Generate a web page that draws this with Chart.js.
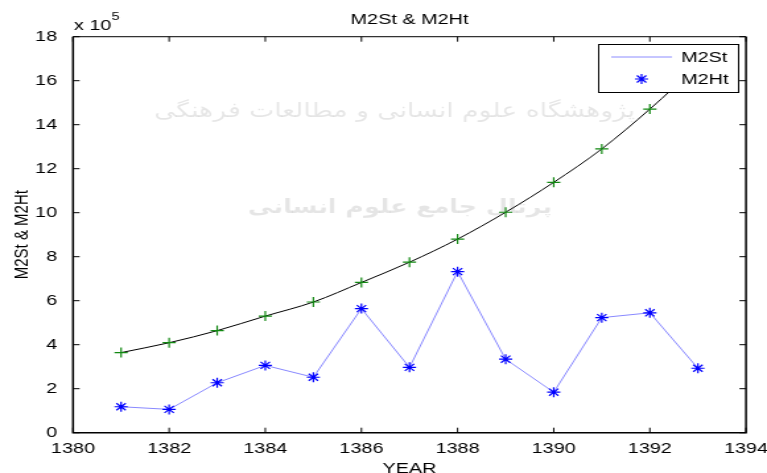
<!DOCTYPE html>
<html>
<head>
<meta charset="utf-8">
<script src="https://cdn.jsdelivr.net/npm/chart.js@4.4.1/dist/chart.umd.min.js"></script>
<style>
  html, body { margin: 0; padding: 0; background: #fff; overflow: hidden; }
  /* the figure is drawn narrower and stretched sideways, like a resized export */
  #wrap { width: 581px; height: 473px; transform: scaleX(1.3201); transform-origin: 0 0; }
  canvas { display: block; }
</style>
</head>
<body>
<div id="wrap"><canvas id="c" width="581" height="473"></canvas></div>
<script>
// Years (Solar Hijri) and the two money series, in units of 10^5
const years = [1381, 1382, 1383, 1384, 1385, 1386, 1387, 1388, 1389, 1390, 1391, 1392, 1393];
const m2st  = [3.64, 4.09, 4.64, 5.30, 5.94, 6.83, 7.75, 8.80, 10.02, 11.38, 12.90, 14.71, 16.70];
const m2ht  = [1.18, 1.06, 2.27, 3.06, 2.52, 5.64, 2.97, 7.32, 3.34, 1.84, 5.23, 5.45, 2.93];

// Axis tick labels
const xTicks = [1380, 1382, 1384, 1386, 1388, 1390, 1392, 1394];
const yTicks = [0, 2, 4, 6, 8, 10, 12, 14, 16, 18];

// Texts
const titleText = 'M2St & M2Ht';
const xLabel = 'YEAR';
const yLabel = 'M2St & M2Ht';
const watermark = ['پژوهشگاه علوم انسانی و مطالعات فرهنگی', 'پرتال جامع علوم انسانی'];

const FONT = '"Liberation Sans", Arial, Helvetica, sans-serif';

// draw a line of text scaled so that it spans the given width
function fitText(ctx, text, cx, cy, width, weight) {
  ctx.font = weight + ' 20px "DejaVu Sans"';
  const size = 20 * width / ctx.measureText(text).width;
  ctx.font = weight + ' ' + size.toFixed(1) + 'px "DejaVu Sans"';
  ctx.fillText(text, cx, cy);
}

const figure = {
  id: 'figure',
  beforeDatasetsDraw(chart) {
    const ctx = chart.ctx;
    ctx.save();
    ctx.fillStyle = 'rgba(0,0,0,0.1)';
    ctx.textAlign = 'center';
    ctx.textBaseline = 'middle';
    ctx.direction = 'rtl';
    fitText(ctx, watermark[0], 299, 112, 364, 'normal');
    fitText(ctx, watermark[1], 303, 208, 230, 'bold');
    ctx.restore();
  },
  afterDatasetsDraw(chart) {
    // legend box in the upper right corner of the axes
    const ctx = chart.ctx;
    const ds = chart.data.datasets;
    const bx = 453, by = 44, bw = 106, bh = 48;
    ctx.save();
    ctx.fillStyle = '#fff';
    ctx.fillRect(bx, by, bw, bh);
    ctx.strokeStyle = '#000';
    ctx.lineWidth = 1;
    ctx.strokeRect(bx + 0.5, by + 0.5, bw, bh);
    // first entry: thin line sample
    ctx.strokeStyle = '#8c8cff';
    ctx.beginPath();
    ctx.moveTo(463, 57);
    ctx.lineTo(509, 57);
    ctx.stroke();
    // second entry: asterisk marker sample
    ctx.strokeStyle = '#0000ff';
    ctx.lineWidth = 1.2;
    Chart.helpers.drawPoint(ctx, { pointStyle: 'star', radius: 5, rotation: 0, borderWidth: 1.2 }, 486, 79);
    ctx.fillStyle = '#000';
    ctx.font = '15px ' + FONT;
    ctx.textAlign = 'left';
    ctx.textBaseline = 'middle';
    ctx.fillText(ds[0].label, 516, 58);
    ctx.fillText(ds[1].label, 516, 80);
    ctx.restore();
  },
  afterDraw(chart) {
    const { ctx, chartArea: a, scales: { x, y } } = chart;
    ctx.save();
    // axes box
    ctx.strokeStyle = '#000';
    ctx.lineWidth = 1.5;
    ctx.beginPath();
    ctx.moveTo(a.left, a.top);
    ctx.lineTo(a.left, a.bottom);
    ctx.lineTo(a.right, a.bottom);
    ctx.lineTo(a.right, a.top);
    ctx.stroke();
    ctx.strokeStyle = '#333';
    ctx.lineWidth = 1.2;
    ctx.beginPath();
    ctx.moveTo(a.left, a.top);
    ctx.lineTo(a.right, a.top);
    ctx.stroke();
    // inward tick marks on all four sides
    ctx.strokeStyle = '#000';
    ctx.lineWidth = 1;
    ctx.beginPath();
    xTicks.forEach(v => {
      const px = x.getPixelForValue(v);
      ctx.moveTo(px, a.bottom); ctx.lineTo(px, a.bottom - 5);
      ctx.moveTo(px, a.top); ctx.lineTo(px, a.top + 5);
    });
    yTicks.forEach(v => {
      const py = y.getPixelForValue(v);
      ctx.moveTo(a.left, py); ctx.lineTo(a.left + 5, py);
      ctx.moveTo(a.right, py); ctx.lineTo(a.right - 5, py);
    });
    ctx.stroke();
    // titles
    ctx.fillStyle = '#000';
    ctx.font = '15px ' + FONT;
    ctx.textAlign = 'center';
    ctx.textBaseline = 'alphabetic';
    ctx.fillText(titleText, (a.left + a.right) / 2, 24);
    ctx.fillText(xLabel, (a.left + a.right) / 2, 472.5);
    ctx.save();
    ctx.translate(20.5, (a.top + a.bottom) / 2);
    ctx.rotate(-Math.PI / 2);
    ctx.fillText(yLabel, 0, 0);
    ctx.restore();
    // exponent of the y axis
    ctx.textAlign = 'left';
    ctx.fillText('x 10', 56, 29.5);
    ctx.font = '11px ' + FONT;
    ctx.fillText('5', 84.5, 20);
    ctx.restore();
  }
};

new Chart(document.getElementById('c'), {
  type: 'line',
  data: {
    datasets: [
      {
        label: 'M2St',
        data: years.map((yr, i) => ({ x: yr, y: m2st[i] })),
        borderColor: '#000',
        borderWidth: 1,
        cubicInterpolationMode: 'monotone',
        pointStyle: 'cross',
        pointRadius: 5,
        pointBorderColor: '#118811',
        pointBorderWidth: 1.2,
        pointBackgroundColor: 'transparent'
      },
      {
        label: 'M2Ht',
        data: years.map((yr, i) => ({ x: yr, y: m2ht[i] })),
        borderColor: '#8888ff',
        borderWidth: 1,
        tension: 0,
        pointStyle: 'star',
        pointRadius: 5,
        pointBorderColor: '#0000ff',
        pointBorderWidth: 1.2,
        pointBackgroundColor: 'transparent'
      }
    ]
  },
  options: {
    responsive: false,
    animation: false,
    devicePixelRatio: 1,
    layout: { padding: { left: 0, top: 36.7, right: 15.9, bottom: 0 } },
    plugins: { legend: { display: false }, tooltip: { enabled: false } },
    scales: {
      x: {
        type: 'linear',
        min: 1380,
        max: 1394,
        afterBuildTicks: s => { s.ticks = xTicks.map(v => ({ value: v })); },
        afterFit: s => { s.height = 40.3; },
        grid: { display: false },
        border: { display: false },
        ticks: {
          font: { family: FONT, size: 15 },
          color: '#000',
          padding: -1,
          maxRotation: 0,
          autoSkip: false,
          callback: v => String(v)
        }
      },
      y: {
        type: 'linear',
        min: 0,
        max: 18,
        afterBuildTicks: s => { s.ticks = yTicks.map(v => ({ value: v })); },
        afterFit: s => { s.width = 55.3; },
        grid: { display: false },
        border: { display: false },
        ticks: {
          font: { family: FONT, size: 15 },
          color: '#000',
          padding: 4,
          autoSkip: false,
          callback: v => String(v)
        }
      }
    }
  },
  plugins: [figure]
});
</script>
</body>
</html>
